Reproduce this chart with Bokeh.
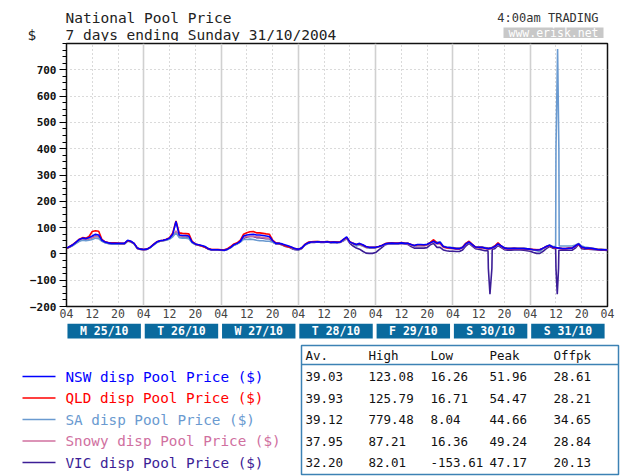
from bokeh.plotting import figure
from bokeh.models import Range1d, FixedTicker, Grid
from bokeh.layouts import column
from bokeh.core.properties import value
from bokeh.embed import file_html
from bokeh.resources import INLINE

MONO = "DejaVu Sans Mono"

# ---------------- data (hourly from Mon 25/10 04:00, 169 points) ----------------
NSW = [22, 28, 35, 45, 55, 60, 58, 62, 68, 75, 72, 52, 45, 42, 40, 40, 40, 40, 40, 52, 48, 40, 22, 18,
       17, 18, 25, 35, 45, 50, 52, 55, 60, 75, 123, 72, 70, 70, 68, 45, 38, 35, 32, 28, 20, 16, 16, 16,
       15, 14, 18, 25, 35, 40, 48, 68, 72, 74, 75, 72, 72, 70, 68, 66, 50, 40, 40, 38, 34, 30, 25, 20,
       18, 22, 35, 42, 45, 45, 46, 45, 45, 46, 44, 45, 44, 45, 55, 65, 45, 40, 36, 40, 35, 28, 25, 25,
       25, 28, 32, 38, 40, 41, 40, 40, 42, 40, 40, 36, 32, 36, 36, 35, 37, 42, 48, 40, 44, 28, 25, 24,
       22, 20, 20, 24, 38, 45, 35, 26, 25, 25, 22, 20, 22, 28, 38, 30, 22, 20, 20, 21, 20, 20, 20, 19,
       18, 16, 15, 16, 22, 28, 33, 26, 24, 22, 20, 20, 21, 22, 30, 38, 26, 22, 22, 21, 19, 17, 16, 16, 15]
QLD = [20, 28, 36, 46, 56, 62, 60, 66, 85, 88, 86, 55, 46, 43, 42, 42, 41, 40, 40, 50, 47, 40, 22, 18,
       17, 18, 26, 36, 46, 50, 52, 56, 62, 80, 125, 80, 78, 77, 76, 48, 38, 34, 30, 25, 20, 17, 17, 17,
       16, 15, 20, 28, 38, 42, 52, 75, 80, 84, 85, 80, 80, 78, 76, 75, 52, 42, 40, 36, 30, 26, 24, 20,
       18, 22, 36, 44, 46, 47, 47, 46, 46, 47, 45, 46, 45, 46, 55, 62, 46, 40, 36, 38, 34, 27, 25, 25,
       25, 28, 33, 39, 41, 42, 41, 41, 43, 41, 40, 36, 32, 35, 35, 34, 36, 44, 54, 42, 42, 27, 24, 23,
       22, 20, 20, 25, 40, 48, 36, 26, 25, 25, 22, 20, 22, 30, 42, 30, 22, 20, 20, 21, 20, 20, 20, 19,
       18, 17, 16, 16, 22, 28, 32, 25, 23, 22, 20, 20, 22, 22, 30, 37, 25, 22, 21, 20, 19, 17, 17, 16, 15]
SA = [20, 26, 32, 40, 48, 52, 50, 52, 55, 60, 58, 48, 42, 40, 38, 38, 38, 38, 38, 48, 45, 38, 22, 18,
      17, 18, 24, 33, 42, 48, 50, 52, 56, 65, 80, 62, 60, 60, 58, 42, 36, 33, 30, 26, 20, 16, 16, 16,
      15, 14, 18, 24, 33, 38, 45, 55, 55, 56, 55, 52, 50, 50, 48, 48, 44, 40, 40, 36, 30, 28, 22, 18,
      17, 22, 34, 42, 46, 46, 47, 46, 46, 47, 45, 46, 45, 46, 52, 60, 44, 40, 30, 34, 30, 25, 22, 22,
      23, 27, 32, 38, 40, 41, 40, 40, 42, 40, 40, 35, 30, 33, 32, 32, 35, 44, 50, 44, 46, 30, 26, 25,
      24, 22, 22, 26, 40, 46, 36, 27, 26, 26, 24, 22, 24, 30, 40, 30, 24, 22, 22, 22, 22, 22, 22, 20,
      19, 15, 12, 8, 20, 28, 34, 28, None, 30, 30, 30, 30, 30, 34, 40, 30, 26, 24, 22, 20, 18, 18, 17, 16]
SNOWY = [21, 27, 34, 44, 52, 56, 55, 58, 62, 66, 64, 50, 44, 41, 39, 39, 39, 39, 39, 50, 46, 39, 21, 18,
         17, 18, 25, 34, 44, 49, 51, 54, 58, 70, 87, 68, 66, 66, 64, 44, 37, 34, 31, 27, 20, 17, 17, 17,
         16, 17, 19, 25, 34, 39, 46, 62, 66, 67, 67, 64, 64, 62, 60, 60, 46, 39, 39, 36, 31, 28, 23, 19,
         18, 21, 34, 42, 45, 45, 46, 45, 45, 46, 44, 45, 44, 45, 52, 60, 44, 38, 32, 35, 30, 24, 22, 22,
         23, 27, 31, 37, 39, 40, 39, 39, 41, 39, 38, 33, 28, 30, 30, 30, 33, 40, 46, 38, 38, 25, 22, 21,
         20, 18, 18, 22, 36, 44, 33, 24, 23, 22, 20, 18, 20, 26, 36, 28, 20, 18, 18, 19, 18, 18, 18, 17,
         17, 17, 17, 17, 20, 26, 31, 25, 23, 21, 19, 19, 20, 21, 28, 37, 25, 21, 20, 20, 18, 17, 17, 17, 17]
VIC = [20, 26, 33, 42, 50, 55, 54, 58, 62, 68, 66, 50, 43, 40, 38, 38, 38, 38, 38, 50, 46, 38, 20, 17,
       16, 17, 24, 34, 44, 48, 50, 54, 58, 70, 82, 66, 64, 64, 62, 44, 36, 33, 30, 25, 18, 15, 15, 15,
       14, 13, 17, 24, 34, 38, 46, 60, 64, 66, 66, 62, 62, 60, 58, 58, 46, 38, 38, 34, 28, 26, 20, 16,
       15, 20, 33, 40, 44, 44, 45, 44, 44, 45, 43, 44, 43, 44, 50, 58, 40, 30, 22, 18, 10, 3, 2, 2,
       5, 15, 25, 35, 38, 38, 38, 38, 40, 38, 36, 28, 22, 22, 22, 22, 24, 35, 40, 25, 25, 15, 12, 10,
       10, 9, 9, 15, 30, 40, 30, 20, 18, 15, 12, None, None, 20, 32, 24, 16, 14, 14, 15, 15, 15, 14, 12,
       10, 5, 2, 2, 10, 20, 28, 22, None, 14, 14, 14, 14, 14, 22, 36, 20, 18, 18, 17, 16, 15, 14, 14, 13]

# half-hour price events (hours from Mon 04:00)
SA_SPIKE_T = [151.9, 152.0, 152.5, 152.9]
SA_SPIKE_V = [28, 400, 779.48, 400]
VIC_DIP_T = [130.9, 131.0, 131.5, 132.1, 132.2, 151.9, 152.0, 152.4, 152.8, 152.9]
VIC_DIP_V = [12, -55, -153.61, -55, 18, 20, -55, -153, -55, 14]

NAMES = ["NSW", "QLD", "SA", "Snowy", "VIC"]
COLORS = ["#0000ff", "#ff0000", "#6a9ad0", "#d0709f", "#3c1e96"]

AV = [39.03, 39.93, 39.12, 37.95, 32.20]
HIGH = [123.08, 125.79, 779.48, 87.21, 82.01]
LOW = [16.26, 16.71, 8.04, 16.36, -153.61]
PEAK = [51.96, 54.47, 44.66, 49.24, 47.17]
OFFPK = [28.61, 28.21, 34.65, 28.84, 20.13]
TABLE_HEAD = ["Av.", "High", "Low", "Peak", "Offpk"]

DAY_LABELS = ["M 25/10", "T 26/10", "W 27/10", "T 28/10", "F 29/10", "S 30/10", "S 31/10"]
XTICK_LABELS = ["04", "12", "20", "04", "12", "20", "04", "12", "20", "04", "12", "20",
                "04", "12", "20", "04", "12", "20", "04", "12", "20", "04"]
YTICKS = [-200, -100, 0, 100, 200, 300, 400, 500, 600, 700]


def build(hourly, extra_t=(), extra_v=()):
    pts = [(float(i), v) for i, v in enumerate(hourly) if v is not None]
    pts += list(zip(extra_t, extra_v))
    pts.sort()
    return [t for t, _ in pts], [v for _, v in pts]


series = {
    "NSW": build(NSW),
    "QLD": build(QLD),
    "SA": build(SA, SA_SPIKE_T, SA_SPIKE_V),
    "Snowy": build(SNOWY),
    "VIC": build(VIC, VIC_DIP_T, VIC_DIP_V),
}

W = 621


def blank(height):
    f = figure(width=W, height=height, x_range=Range1d(0, W), y_range=Range1d(height, 0),
               min_border=0, title=None, x_axis_type=None, y_axis_type=None,
               output_backend="svg", toolbar_location=None, frame_align=False)
    f.outline_line_color = None
    f.grid.visible = False
    return f


# ---------------- header (page y 0..41) ----------------
hdr = blank(41)
hdr.text(x=[65, 65, 27], y=[17.5, 34, 34],
         text=["National Pool Price", "7 days ending Sunday 31/10/2004", "$"],
         text_font=value(MONO), text_font_size=value("14.5px"), text_color="#222222",
         text_baseline="alphabetic", text_align="left")
hdr.text(x=[598], y=[17.5], text=["4:00am TRADING"], text_font=value(MONO),
         text_font_size=value("12px"), text_color="#333333", text_baseline="alphabetic",
         text_align="right")
hdr.quad(left=[503], right=[603], top=[27], bottom=[37.5], fill_color="#c8c8c8", line_color=None)
hdr.text(x=[553], y=[32.4], text=["www.erisk.net"], text_font=value(MONO),
         text_font_size=value("11.5px"), text_color="white", text_baseline="middle",
         text_align="center")

# ---------------- chart (page y 41..323) ----------------
xr = Range1d(0, 168)
p = figure(width=W, height=282, x_range=xr, y_range=Range1d(-200, 800), title=None,
           min_border_left=66, min_border_right=14, min_border_top=2, min_border_bottom=17,
           output_backend="svg", toolbar_location=None, frame_align=False)
p.outline_line_color = "#111111"
p.outline_line_width = 1.5

xticks = list(range(0, 169, 8))
day_ticks = [t for t in xticks if t % 24 == 0]
other_ticks = [t for t in xticks if t % 24 != 0]

p.xgrid.ticker = FixedTicker(ticks=other_ticks)
p.xgrid.grid_line_color = "#b4b4b4"
p.xgrid.grid_line_dash = "1 3"
p.xgrid.grid_line_width = 1
p.add_layout(Grid(dimension=0, ticker=FixedTicker(ticks=day_ticks[1:-1]),
                  grid_line_color="#d0d0d0", grid_line_width=1.6))
p.ygrid.ticker = FixedTicker(ticks=YTICKS[1:])
p.ygrid.grid_line_color = "#b4b4b4"
p.ygrid.grid_line_dash = "1 3"

p.yaxis.ticker = FixedTicker(ticks=YTICKS, minor_ticks=list(range(-200, 801, 25)))
p.yaxis.major_tick_out = 7
p.yaxis.major_tick_in = 0
p.yaxis.minor_tick_out = 4
p.yaxis.minor_tick_in = 0
p.yaxis.major_tick_line_color = "black"
p.yaxis.minor_tick_line_color = "black"
p.yaxis.axis_line_color = "#111111"
p.yaxis.major_label_standoff = 3
p.yaxis.major_label_text_font = MONO
p.yaxis.major_label_text_font_style = "bold"
p.yaxis.major_label_text_font_size = "11px"
p.yaxis.major_label_text_color = "#111111"

p.xaxis.ticker = FixedTicker(ticks=xticks)
p.xaxis.major_label_overrides = {t: lab for t, lab in zip(xticks, XTICK_LABELS)}
p.xaxis.major_tick_out = 0
p.xaxis.major_tick_in = 0
p.xaxis.minor_tick_line_color = None
p.xaxis.axis_line_color = "#111111"
p.xaxis.major_label_standoff = 2
p.xaxis.major_label_text_font = MONO
p.xaxis.major_label_text_font_size = "11.5px"
p.xaxis.major_label_text_color = "#444444"

for name in ["VIC", "Snowy", "SA", "QLD", "NSW"]:
    t, v = series[name]
    p.line(t, v, line_color=COLORS[NAMES.index(name)], line_width=1.6)

# ---------------- day strip (page y 323..341) ----------------
s = figure(width=W, height=18, x_range=xr, y_range=Range1d(0, 18), title=None,
           min_border_left=66, min_border_right=14, min_border_top=0, min_border_bottom=0,
           x_axis_type=None, y_axis_type=None, output_backend="svg", toolbar_location=None,
           frame_align=False)
s.outline_line_color = None
s.grid.visible = False
d0 = [24 * i for i in range(len(DAY_LABELS))]
s.quad(left=[d + 0.3 for d in d0], right=[d + 23.1 for d in d0], top=[18] * 7, bottom=[3] * 7,
       fill_color="#0a6a9e", line_color=None)
s.text(x=[d + 11.7 for d in d0], y=[10.5] * 7, text=DAY_LABELS, text_font=value(MONO),
       text_font_size=value("11.5px"), text_font_style="bold", text_color="white",
       text_align="center", text_baseline="middle")

# ---------------- footer: legend + table (page y 341..476) ----------------
f = blank(135)
rows = [35, 56.5, 78, 99.5, 121]
f.segment(x0=[22] * 5, x1=[55] * 5, y0=rows, y1=rows, line_color=COLORS, line_width=1.5)
f.text(x=[65] * 5, y=rows, text=[f"{n} disp Pool Price ($)" for n in NAMES],
       text_color=COLORS, text_font=value(MONO), text_font_size=value("14.3px"),
       text_baseline="middle", text_align="left")

f.quad(left=[301], right=[618], top=[4], bottom=[133], fill_color=None,
       line_color="#3c82b4", line_width=1.5)
f.segment(x0=[301], x1=[618], y0=[23], y1=[23], line_color="#3c82b4", line_width=1.5)
cols = [305, 368, 430, 489, 553]
f.text(x=cols, y=[14] * 5, text=TABLE_HEAD, text_font=value(MONO),
       text_font_size=value("12.5px"), text_color="#111111", text_baseline="middle")
for cx, vals in zip(cols, [AV, HIGH, LOW, PEAK, OFFPK]):
    f.text(x=[cx] * 5, y=rows, text=[f"{v:.2f}" for v in vals], text_font=value(MONO),
           text_font_size=value("12.5px"), text_color="#111111", text_baseline="middle")

layout = column(hdr, p, s, f, spacing=0)
open("out.html", "w").write(file_html(layout, INLINE))
